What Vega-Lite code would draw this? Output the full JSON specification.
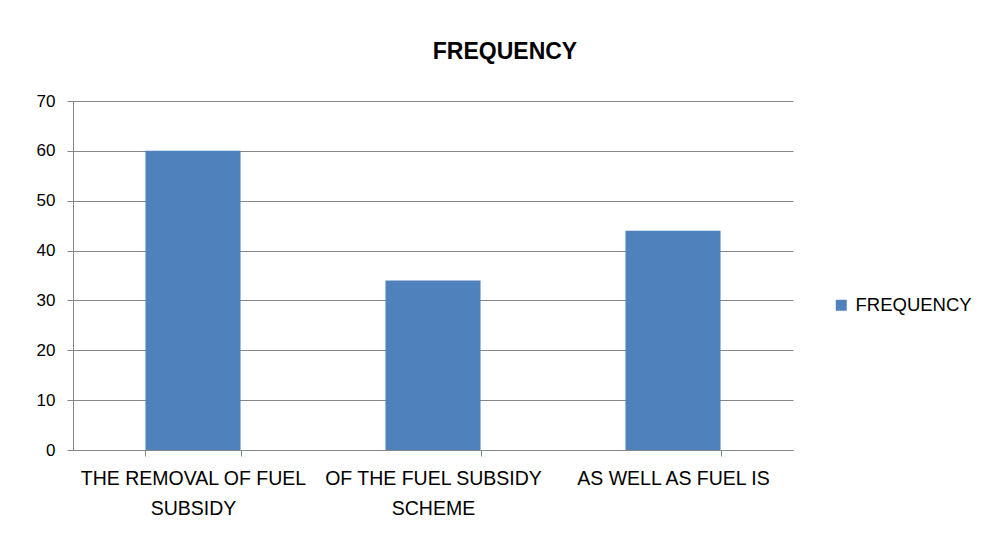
{
  "$schema": "https://vega.github.io/schema/vega-lite/v6.json",
  "width": 720,
  "height": 349,
  "autosize": {"type": "none"},
  "padding": {"left": 73, "top": 101, "right": 193, "bottom": 85},
  "background": "white",
  "title": {
    "text": "FREQUENCY",
    "anchor": "middle",
    "frame": "group",
    "dx": 72,
    "offset": 28,
    "font": "Liberation Sans",
    "fontSize": 23,
    "fontWeight": "bold",
    "color": "#000000"
  },
  "data": {
    "values": [
      {"category": "THE REMOVAL OF FUEL SUBSIDY", "frequency": 60, "series": "FREQUENCY"},
      {"category": "OF THE FUEL SUBSIDY SCHEME", "frequency": 34, "series": "FREQUENCY"},
      {"category": "AS WELL AS FUEL IS", "frequency": 44, "series": "FREQUENCY"}
    ]
  },
  "mark": {"type": "bar"},
  "encoding": {
    "x": {
      "field": "category",
      "type": "nominal",
      "sort": null,
      "title": null,
      "scale": {"paddingInner": 0.604, "paddingOuter": 0.302},
      "axis": {
        "labelAngle": 0,
        "labelExpr": "datum.label == 'THE REMOVAL OF FUEL SUBSIDY' ? ['THE REMOVAL OF FUEL', 'SUBSIDY'] : datum.label == 'OF THE FUEL SUBSIDY SCHEME' ? ['OF THE FUEL SUBSIDY', 'SCHEME'] : datum.label",
        "labelFont": "Liberation Sans",
        "labelFontSize": 19.5,
        "labelLimit": 0,
        "labelColor": "#000000",
        "labelLineHeight": 30,
        "labelPadding": 13,
        "labelBaseline": "top",
        "tickBand": "extent",
        "tickColor": "#868686",
        "tickSize": 6,
        "domainColor": "#868686",
        "grid": false
      }
    },
    "y": {
      "field": "frequency",
      "type": "quantitative",
      "title": null,
      "scale": {"domain": [0, 70], "nice": false},
      "axis": {
        "values": [0, 10, 20, 30, 40, 50, 60, 70],
        "labelFont": "Liberation Sans",
        "labelFontSize": 17,
        "labelColor": "#000000",
        "labelPadding": 12,
        "tickColor": "#868686",
        "tickSize": 6,
        "domainColor": "#868686",
        "grid": true,
        "gridColor": "#868686",
        "gridOpacity": 1
      }
    },
    "color": {
      "field": "series",
      "type": "nominal",
      "scale": {"range": ["#4F81BD"]},
      "legend": {
        "title": null,
        "orient": "none",
        "legendX": 759,
        "legendY": 195,
        "symbolType": "square",
        "symbolSize": 120,
        "symbolStrokeWidth": 0,
        "labelFont": "Liberation Sans",
        "labelFontSize": 18.5,
        "labelLimit": 0,
        "labelColor": "#000000",
        "labelOffset": 5
      }
    }
  },
  "config": {
    "view": {"stroke": null}
  }
}
